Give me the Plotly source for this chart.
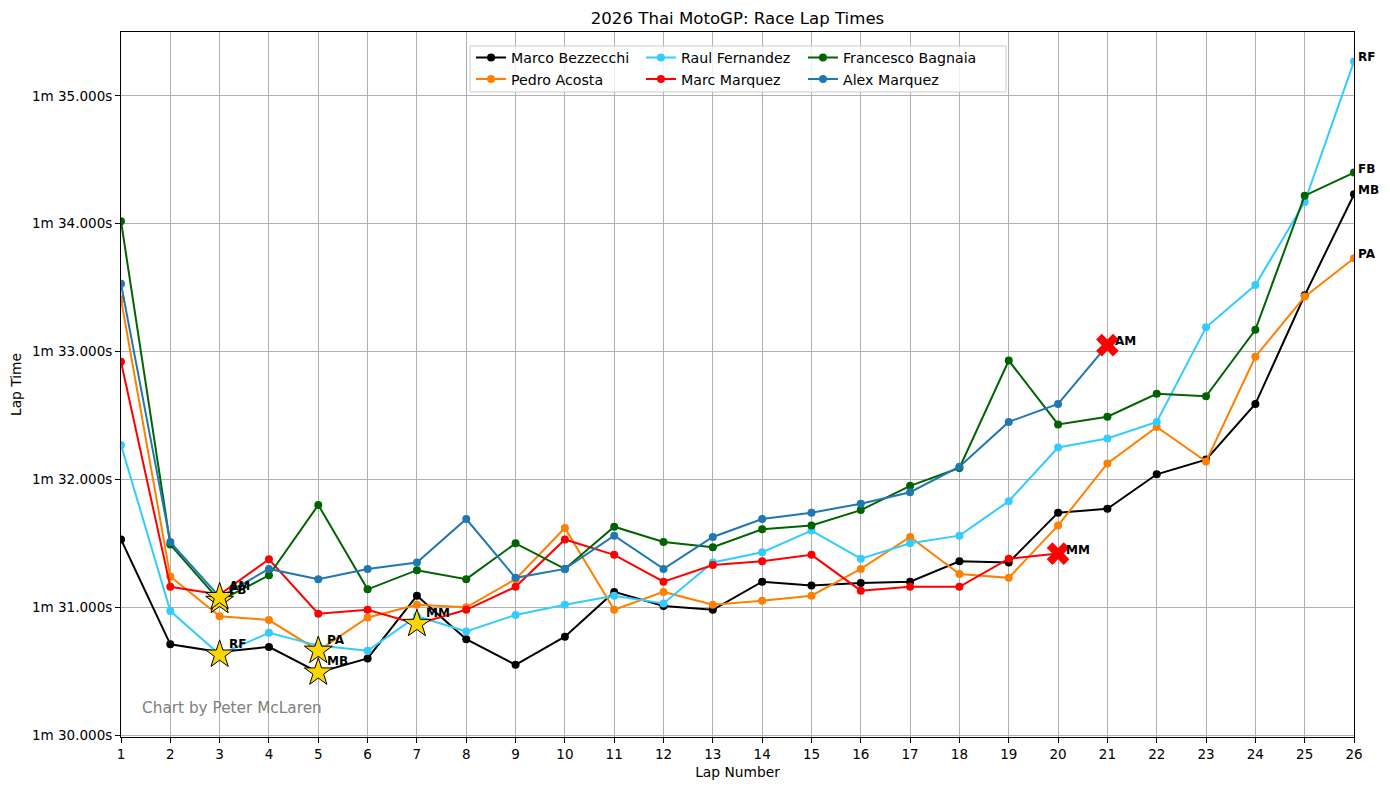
import plotly.graph_objects as go

laps = list(range(1, 27))

riders = ["Marco Bezzecchi", "Pedro Acosta", "Raul Fernandez",
          "Marc Marquez", "Francesco Bagnaia", "Alex Marquez"]
initials = ["MB", "PA", "RF", "MM", "FB", "AM"]
colors = ["#000000", "#FF8000", "#33CCFF", "#FF0000", "#006400", "#1F77B4"]

mb = [91.53, 90.71, 90.65, 90.69, 90.49, 90.60, 91.09, 90.75, 90.55, 90.77,
      91.12, 91.01, 90.98, 91.20, 91.17, 91.19, 91.20, 91.36, 91.35, 91.74,
      91.77, 92.04, 92.155, 92.59, 93.44, 94.23]
pa = [93.41, 91.24, 90.93, 90.90, 90.66, 90.92, 91.02, 91.00, 91.22, 91.62,
      90.98, 91.12, 91.02, 91.05, 91.09, 91.30, 91.55, 91.26, 91.23, 91.64,
      92.125, 92.41, 92.14, 92.96, 93.43, 93.73]
rf = [92.27, 90.97, 90.63, 90.80, 90.70, 90.66, 90.93, 90.81, 90.94, 91.02,
      91.09, 91.03, 91.35, 91.43, 91.60, 91.38, 91.50, 91.56, 91.83, 92.25,
      92.32, 92.45, 93.19, 93.52, 94.17, 95.27]
mm = [92.92, 91.16, 91.10, 91.375, 90.95, 90.98, 90.87, 90.98, 91.16, 91.53,
      91.41, 91.20, 91.33, 91.36, 91.41, 91.13, 91.16, 91.16, 91.38, 91.42,
      None, None, None, None, None, None]
fb = [94.02, 91.49, 91.05, 91.25, 91.80, 91.14, 91.29, 91.22, 91.50, 91.30,
      91.63, 91.51, 91.47, 91.61, 91.64, 91.76, 91.95, 92.09, 92.93, 92.43,
      92.49, 92.67, 92.65, 93.17, 94.22, 94.40]
am = [93.53, 91.51, 91.08, 91.30, 91.22, 91.30, 91.35, 91.69, 91.23, 91.30,
      91.56, 91.30, 91.55, 91.69, 91.74, 91.81, 91.90, 92.10, 92.45, 92.59,
      93.05, None, None, None, None, None]
series = [mb, pa, rf, mm, fb, am]

ytick_vals = [90, 91, 92, 93, 94, 95]
ytick_text = ["1m 30.000s", "1m 31.000s", "1m 32.000s",
              "1m 33.000s", "1m 34.000s", "1m 35.000s"]

FONT = "DejaVu Sans"
legend_names = ["legend", "legend", "legend2", "legend2", "legend3", "legend3"]

fig = go.Figure()
for name, col, ys, lg in zip(riders, colors, series, legend_names):
    fig.add_trace(go.Scatter(
        x=laps, y=ys, mode="lines+markers", name=name,
        line=dict(color=col, width=2), marker=dict(color=col, size=8),
        legend=lg, connectgaps=False))

annotations = []
# fastest laps (stars)
star_x, star_y = [], []
for ini, ys in zip(initials, series):
    valid = [(v, l) for v, l in zip(ys, laps) if v is not None]
    best_v, best_l = min(valid)
    star_x.append(best_l)
    star_y.append(best_v)
    annotations.append(dict(x=best_l, y=best_v, text="<b>%s</b>" % ini,
                            showarrow=False, xanchor="left", yanchor="middle",
                            xshift=7, yshift=11,
                            font=dict(family=FONT, size=12, color="black")))
fig.add_trace(go.Scatter(x=star_x, y=star_y, mode="markers", showlegend=False,
                         marker=dict(symbol="star", size=21, color="#FFD700",
                                     line=dict(color="black", width=1))))

# end labels / crash markers
crash_x, crash_y = [], []
for ini, ys in zip(initials, series):
    valid = [(l, v) for v, l in zip(ys, laps) if v is not None]
    last_l, last_v = valid[-1]
    if last_l < laps[-1]:
        crash_x.append(last_l)
        crash_y.append(last_v)
        annotations.append(dict(x=last_l, y=last_v, text="<b>%s</b>" % ini,
                                showarrow=False, xanchor="left", yanchor="middle",
                                xshift=6, yshift=4,
                                font=dict(family=FONT, size=12, color="black")))
    else:
        annotations.append(dict(x=last_l, y=last_v, text="<b>%s</b>" % ini,
                                showarrow=False, xanchor="left", yanchor="middle",
                                xshift=2, yshift=4,
                                font=dict(family=FONT, size=12, color="black")))
fig.add_trace(go.Scatter(x=crash_x, y=crash_y, mode="markers", showlegend=False,
                         marker=dict(symbol="x", size=20, color="#FF0000",
                                     line=dict(width=0))))

annotations.append(dict(x=0.0155, y=0.041, xref="paper", yref="paper",
                        text="Chart by Peter McLaren", showarrow=False,
                        xanchor="left", yanchor="middle",
                        font=dict(family=FONT, size=15.3, color="#808080")))

legend_common = dict(orientation="v", yanchor="top", xanchor="left",
                     bgcolor="rgba(0,0,0,0)", borderwidth=0,
                     font=dict(family=FONT, size=14.2, color="black"),
                     itemwidth=30, tracegroupgap=0)
leg_y = 0.986

fig.update_layout(
    width=1390, height=790,
    margin=dict(l=113, r=44, t=24, b=60.5, autoexpand=False),
    paper_bgcolor="white", plot_bgcolor="white",
    font=dict(family=FONT, size=13.5, color="black"),
    title=dict(text="2026 Thai MotoGP: Race Lap Times", x=0.5, xref="paper",
               xanchor="center", y=1 - 10 / 790, yanchor="middle", yref="container",
               font=dict(family=FONT, size=16.6, color="black")),
    xaxis=dict(range=[1, 26], tickmode="array", tickvals=laps, automargin=False,
               showgrid=True, gridcolor="#b0b0b0", gridwidth=1,
               showline=True, linecolor="black", linewidth=1, mirror=True,
               ticks="outside", ticklen=5, tickcolor="black", zeroline=False,
               title=dict(text="Lap Number", standoff=6,
                          font=dict(family=FONT, size=13.8))),
    yaxis=dict(range=[89.985, 95.5], tickmode="array", tickvals=ytick_vals,
               ticktext=ytick_text, automargin=False,
               showgrid=True, gridcolor="#b0b0b0", gridwidth=1,
               showline=True, linecolor="black", linewidth=1, mirror=True,
               ticks="outside", ticklen=5, tickcolor="black", zeroline=False,
               title=dict(text="Lap Time", standoff=12,
                          font=dict(family=FONT, size=13.8))),
    legend=dict(x=0.2839, y=leg_y, **legend_common),
    legend2=dict(x=0.4217, y=leg_y, **legend_common),
    legend3=dict(x=0.5531, y=leg_y, **legend_common),
    annotations=annotations,
    shapes=[dict(type="rect", xref="paper", yref="paper",
                 x0=(470 - 121) / 1233, x1=(1006 - 121) / 1233,
                 y0=(737.5 - 92) / 705.5, y1=(737.5 - 46) / 705.5,
                 line=dict(color="#cccccc", width=1),
                 fillcolor="rgba(255,255,255,0.8)", layer="above")],
    showlegend=True,
)

fig.write_html("out.html")
